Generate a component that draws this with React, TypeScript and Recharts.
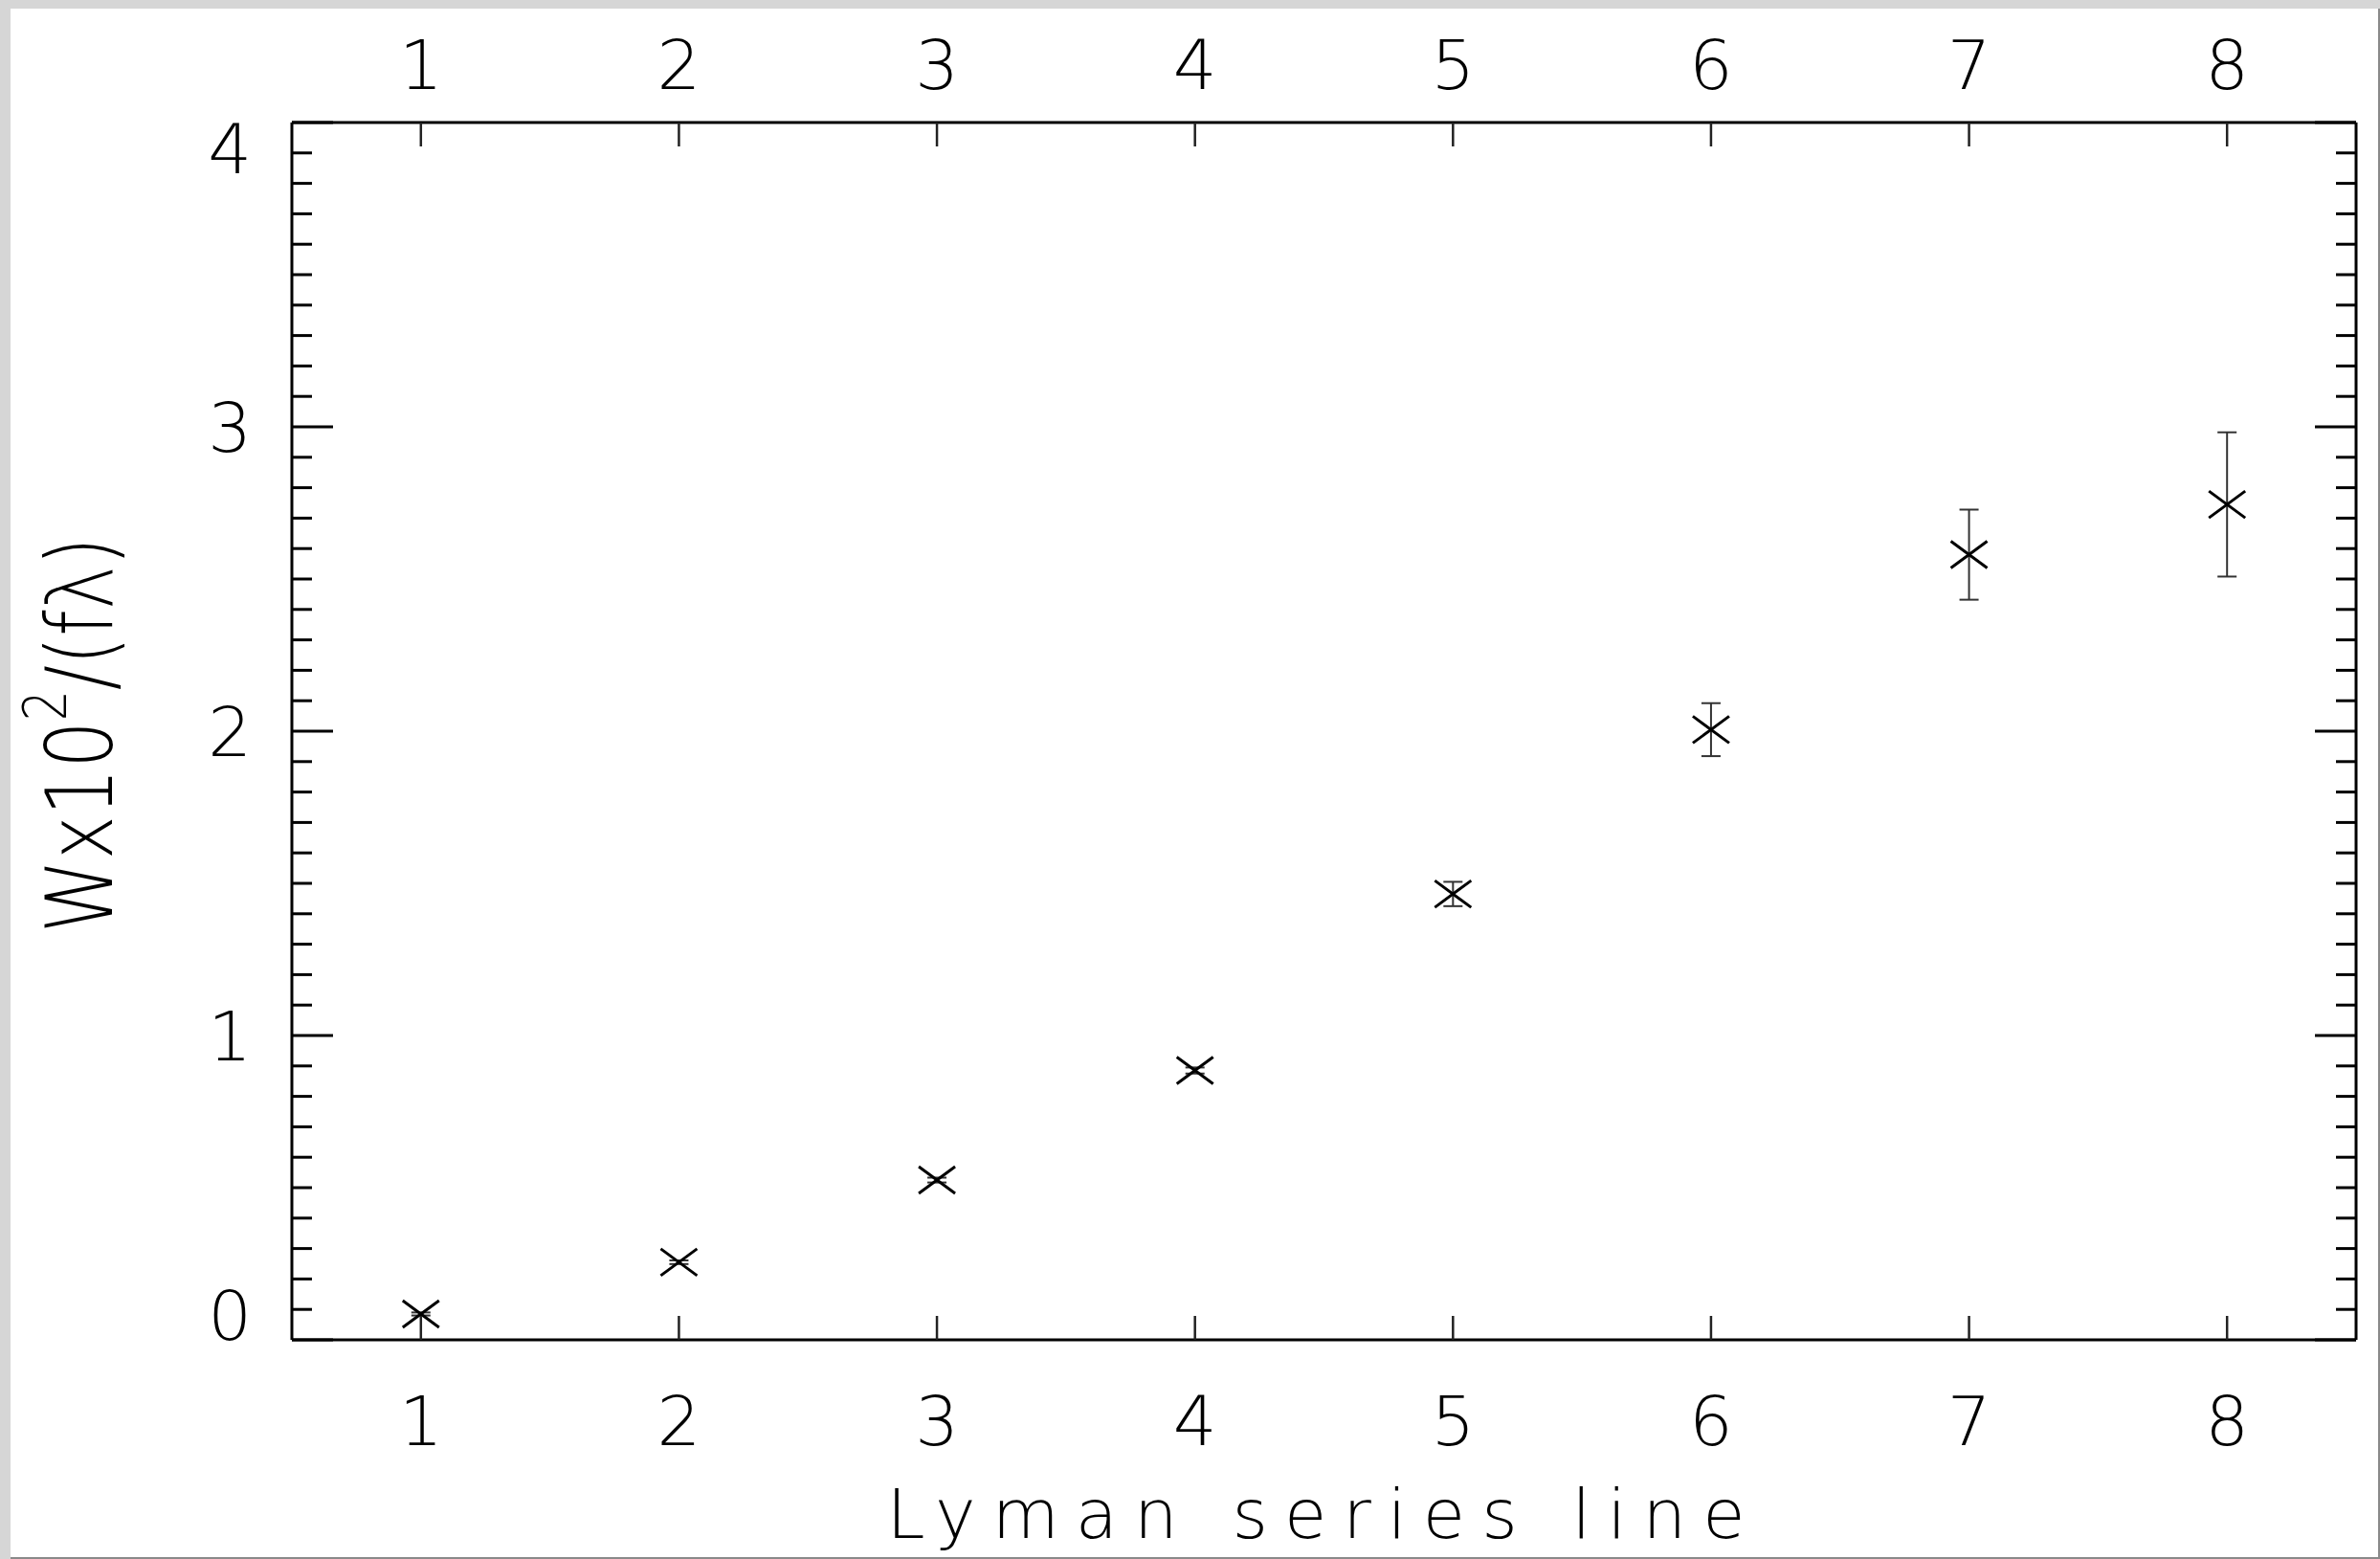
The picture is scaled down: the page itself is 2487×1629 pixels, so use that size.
import React from 'react';
import { ScatterChart, Scatter, XAxis, YAxis, ErrorBar } from 'recharts';

// Lyman series line number vs W x 10^2 / (f lambda)
const lymanLines = [1, 2, 3, 4, 5, 6, 7, 8];
const widthRatio = [0.085, 0.255, 0.525, 0.885, 1.465, 2.005, 2.58, 2.745];
const widthError = [0.005, 0.006, 0.008, 0.01, 0.04, 0.087, 0.148, 0.237];

const xTicks = [1, 2, 3, 4, 5, 6, 7, 8];
const yMajorTicks = [0, 1, 2, 3, 4];
const yTicks = Array.from({ length: 41 }, (_, i) => i / 10);

const data = lymanLines.map((n, i) => ({ line: n, w: widthRatio[i], err: widthError[i] }));

const W = 2487;
const H = 1629;
const FONT = "'DejaVu Sans', sans-serif";
const textStyle = { fontFamily: FONT, fontWeight: 200, fill: '#000' };

const isMajor = (v: number) => Math.abs(v - Math.round(v)) < 1e-6;

const LeftTick = (props: any) => {
    const { x, y, payload } = props;
    const v = payload.value;
    const major = isMajor(v);
    const n = Math.round(v);
    let base = y + 26;
    if (major && n === yMajorTicks[yMajorTicks.length - 1]) base = y + 53;
    if (major && n === yMajorTicks[0]) base = y;
    return (
        <g>
            <line x1={x} x2={x + (major ? 43 : 21)} y1={y} y2={y} stroke='#000' strokeWidth={3} />
            {major && yMajorTicks.includes(n) && (
                <text x={x - 42} y={base} textAnchor='end' fontSize={72} style={textStyle}>{n}</text>
            )}
        </g>
    );
};

const RightTick = (props: any) => {
    const { x, y, payload } = props;
    const major = isMajor(payload.value);
    return <line x1={x} x2={x - (major ? 43 : 21)} y1={y} y2={y} stroke='#000' strokeWidth={3} />;
};

const BottomTick = (props: any) => {
    const { x, y, payload } = props;
    return (
        <g>
            <line x1={x} x2={x} y1={y} y2={y - 25} stroke='#222' strokeWidth={2.5} />
            <text x={x} y={y + 110} textAnchor='middle' fontSize={72} style={textStyle}>{payload.value}</text>
        </g>
    );
};

const TopTick = (props: any) => {
    const { x, y, payload } = props;
    return (
        <g>
            <line x1={x} x2={x} y1={y} y2={y + 25} stroke='#222' strokeWidth={2.5} />
            <text x={x} y={y - 35} textAnchor='middle' fontSize={72} style={textStyle}>{payload.value}</text>
        </g>
    );
};

const Cross = (props: any) => {
    const { cx, cy } = props;
    return (
        <g>
            <line x1={cx - 19} y1={cy - 14} x2={cx + 19} y2={cy + 14} stroke='#000' strokeWidth={3} />
            <line x1={cx - 19} y1={cy + 14} x2={cx + 19} y2={cy - 14} stroke='#000' strokeWidth={3} />
        </g>
    );
};

const NoMark = () => <g />;

const XTitle = (props: any) => {
    const { viewBox } = props;
    const cx = viewBox.x + viewBox.width / 2;
    return (
        <text x={cx} y={viewBox.y + 207} textAnchor='middle' fontSize={72} letterSpacing={17} style={textStyle}>
            Lyman series line
        </text>
    );
};

const YTitle = (props: any) => {
    const { viewBox } = props;
    const bx = viewBox.x + viewBox.width - 188;
    const cy = viewBox.y + viewBox.height / 2 + 4;
    return (
        <text
            transform={`translate(${bx},${cy}) rotate(-90) scale(0.81,1)`}
            textAnchor='middle'
            fontSize={96}
            style={textStyle}
        >
            Wx10<tspan fontSize={62} dy={-48}>2</tspan><tspan dy={48}>/(fλ)</tspan>
        </text>
    );
};

export default function App() {
    return (
        <div style={{ position: 'absolute', left: 0, top: 0, width: W, height: H, background: '#d6d6d6' }}>
            <div style={{ position: 'absolute', left: 11, top: 9, width: 2476, height: 1620, background: '#fff', boxSizing: 'border-box', borderRight: '2px solid #8a8a8a', borderBottom: '2px solid #8a8a8a' }} />
            <div style={{ position: 'absolute', left: 0, top: 0 }}>
                <ScatterChart width={W} height={H} margin={{ top: 28, right: 15, bottom: 29, left: 25 }}>
                    <XAxis
                        xAxisId='bottom'
                        dataKey='line'
                        type='number'
                        domain={[0.5, 8.5]}
                        ticks={xTicks}
                        interval={0}
                        allowDataOverflow
                        height={200}
                        tickSize={0}
                        tickMargin={0}
                        tickLine={false}
                        axisLine={{ stroke: '#000', strokeWidth: 3 }}
                        tick={BottomTick}
                        label={XTitle}
                    />
                    <XAxis
                        xAxisId='top'
                        dataKey='line'
                        orientation='top'
                        type='number'
                        domain={[0.5, 8.5]}
                        ticks={xTicks}
                        interval={0}
                        allowDataOverflow
                        height={100}
                        tickSize={0}
                        tickMargin={0}
                        tickLine={false}
                        axisLine={{ stroke: '#000', strokeWidth: 3 }}
                        tick={TopTick}
                    />
                    <YAxis
                        yAxisId='left'
                        dataKey='w'
                        type='number'
                        domain={[0, 4]}
                        ticks={yTicks}
                        interval={0}
                        allowDataOverflow
                        width={280}
                        tickSize={0}
                        tickMargin={0}
                        tickLine={false}
                        axisLine={{ stroke: '#000', strokeWidth: 3 }}
                        tick={LeftTick}
                        label={YTitle}
                    />
                    <YAxis
                        yAxisId='right'
                        dataKey='w'
                        orientation='right'
                        type='number'
                        domain={[0, 4]}
                        ticks={yTicks}
                        interval={0}
                        allowDataOverflow
                        width={10}
                        tickSize={0}
                        tickMargin={0}
                        tickLine={false}
                        axisLine={{ stroke: '#000', strokeWidth: 3 }}
                        tick={RightTick}
                    />
                    {/* hidden twin so the top and right frame axes get data */}
                    <Scatter
                        data={data}
                        xAxisId='top'
                        yAxisId='right'
                        dataKey='w'
                        shape={NoMark}
                        isAnimationActive={false}
                    />
                    <Scatter
                        data={data}
                        xAxisId='bottom'
                        yAxisId='left'
                        dataKey='w'
                        shape={Cross}
                        isAnimationActive={false}
                    >
                        <ErrorBar dataKey='err' direction='y' width={10} stroke='#333' strokeWidth={2} />
                    </Scatter>
                </ScatterChart>
            </div>
        </div>
    );
}
